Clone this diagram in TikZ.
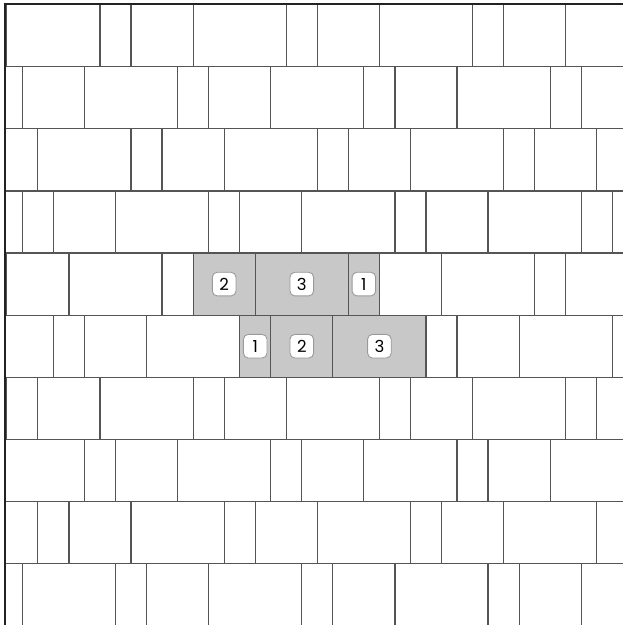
\documentclass[tikz,border=0pt]{standalone}
\usepackage{fontspec}
\newfontfamily\tagfont{Poppins}
\usepackage{xcolor}
\definecolor{jointgray}{HTML}{555555}
\definecolor{tilefill}{HTML}{C8C8C8}
\definecolor{tagline}{HTML}{9A9A9A}
\definecolor{framegray}{HTML}{222222}

\begin{document}
\begin{tikzpicture}[x=5mm, y=5mm,
    joint/.style={draw=jointgray, line width=0.55pt},
    tag/.style={draw=tagline, fill=white, line width=0.4pt, rounded corners=2.2pt,
        minimum size=10.8pt, inner sep=0pt, font=\tagfont\fontsize{7.6}{8}\selectfont}]
    \useasboundingbox (-0.22, 0.15) rectangle (19.84, -19.98);

    % Pecas destacadas
    \foreach \x/\w in {6/2, 8/3, 11/1}
        \fill[tilefill] (\x, -8) rectangle ++(\w, -2);
    \foreach \x/\w in {7.5/1, 8.5/2, 10.5/3}
        \fill[tilefill] (\x, -10) rectangle ++(\w, -2);

    % Juntas (3,1,2 por fiada)
    \begin{scope}
        \clip (-0.03, 0.1) rectangle (19.84, -19.98);
        \foreach \r in {0,...,9} {
            \pgfmathsetmacro\off{int(\r/2)+2.5*mod(\r,2)}
            \draw[joint] (-1, -2*\r-2) -- (21, -2*\r-2);
            \foreach \k in {-1, 0, 1, 2, 3} {
                \draw[joint] (\off+6*\k, -2*\r) -- ++(0, -2);
                \draw[joint] (\off+6*\k+3, -2*\r) -- ++(0, -2);
                \draw[joint] (\off+6*\k+4, -2*\r) -- ++(0, -2);
            }
        }
    \end{scope}

    % Moldura
    \draw[framegray, line width=0.9pt] (-0.07, -19.98) -- (-0.07, 0.02) -- (19.84, 0.02);

    % Numeros
    \node[tag] (upTwo) at (7, -9) {2};
    \node[tag] (upThree) at (9.5, -9) {3};
    \node[tag] (upOne) at (11.5, -9) {1};
    \node[tag] (lowOne) at (8, -11) {1};
    \node[tag] (lowTwo) at (9.5, -11) {2};
    \node[tag] (lowThree) at (12, -11) {3};
\end{tikzpicture}
\end{document}
